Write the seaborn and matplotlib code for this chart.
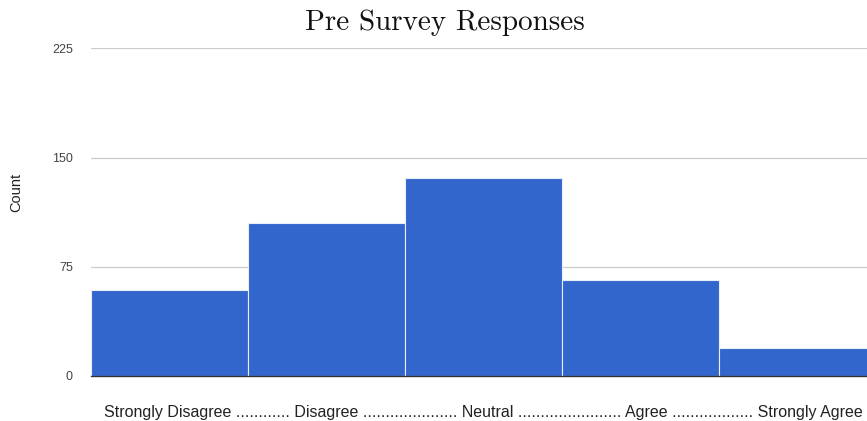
import matplotlib
matplotlib.use("Agg")
import matplotlib.pyplot as plt
import seaborn as sns
import pandas as pd

# responses
categories = ["Strongly Disagree", "Disagree", "Neutral", "Agree", "Strongly Agree"]
counts = [59, 105, 136, 66, 19]
y_ticks = [0, 75, 150, 225]
x_label = ("Strongly Disagree ............ Disagree ..................... Neutral "
           "....................... Agree .................. Strongly Agree")

df = pd.DataFrame({"category": categories, "count": counts})

sns.set_theme(style="white")
plt.rcParams['font.family'] = ['Liberation Sans', 'DejaVu Sans']

fig = plt.figure(figsize=(8.67, 4.21), dpi=100)
ax = fig.add_axes([0.105, 0.1076, 0.895, 0.7774])

sns.barplot(data=df, x="category", y="count", color="#3366cc", saturation=1,
            width=1.0, edgecolor="#e8eefa", linewidth=0.8, ax=ax, zorder=3)

ax.set_ylim(0, 225)
ax.set_xlim(-0.5, 4.44)
ax.set_yticks(y_ticks)
ax.set_yticklabels([str(t) for t in y_ticks], color="#444444", fontsize=9)
ax.yaxis.grid(True, color="#cccccc", linewidth=0.9, zorder=0)
ax.set_xticks([])
ax.tick_params(axis="y", length=0, pad=13)
for s in ["top", "right", "left"]:
    ax.spines[s].set_visible(False)
ax.spines["bottom"].set_color("#333333")
ax.spines["bottom"].set_linewidth(1.0)
ax.spines["bottom"].set_zorder(4)

ax.set_ylabel("Count", fontsize=10.5, color="#222222")
ax.yaxis.set_label_coords(-0.087, 0.56)
ax.set_xlabel(x_label, fontsize=11.5, color="#222222", labelpad=20)
ax.xaxis.set_label_coords(0.505, -0.09)

fig.text(0.513, 0.945, "Pre Survey Responses", ha="center", va="center",
         fontsize=21, family="cmr10", color="#111111")

fig.savefig("out.png", dpi=100)
